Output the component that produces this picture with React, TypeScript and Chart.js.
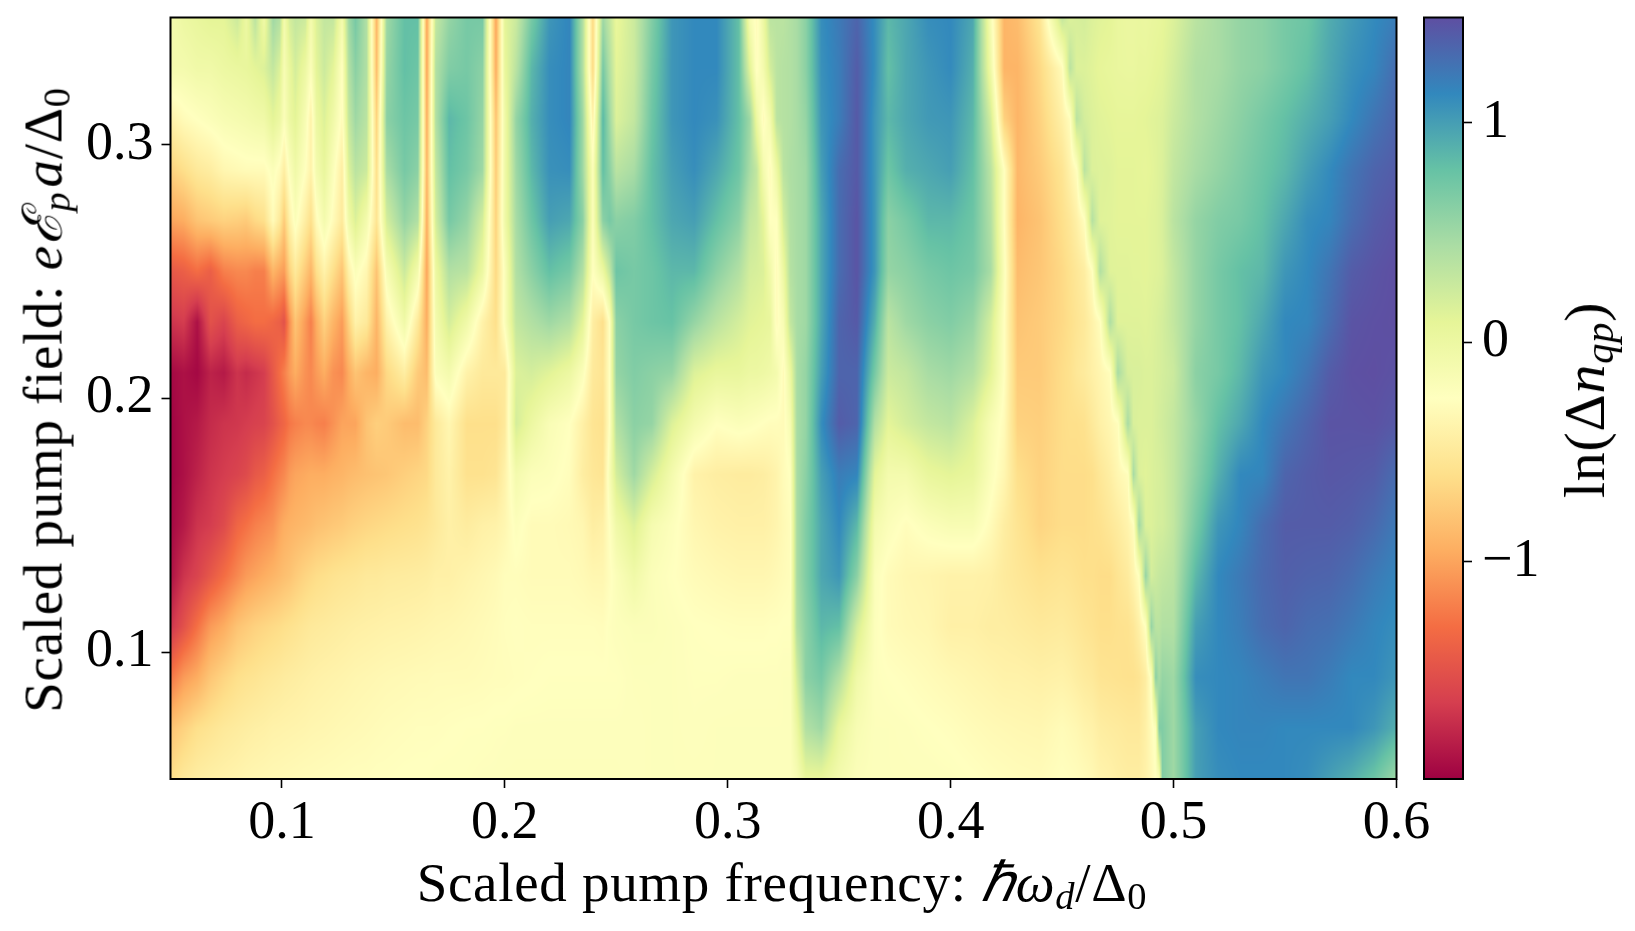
import React, { useEffect, useRef } from "react";
import { Chart, registerables } from "chart.js";

Chart.register(...registerables);

// Pump field values of the rows (bottom to top)
const pumpFields = [0.05, 0.07, 0.09, 0.11, 0.13, 0.15, 0.17, 0.19, 0.21, 0.23, 0.25, 0.27, 0.29, 0.31, 0.33, 0.35];

// Pump frequency of each column
const pumpFrequencies = [
  0.05, 0.056, 0.062, 0.068, 0.074, 0.08, 0.084, 0.088, 0.092, 0.096, 0.099, 0.101, 0.1035, 0.106, 0.1105, 0.113, 0.1155, 0.119, 0.123, 0.127, 0.13, 0.133,
  0.138, 0.1425, 0.147, 0.155, 0.161, 0.165, 0.169, 0.175, 0.183, 0.19, 0.196, 0.2, 0.205, 0.212, 0.22, 0.229,
  0.235, 0.2395, 0.244, 0.247, 0.25, 0.258, 0.266, 0.275, 0.285, 0.295, 0.305, 0.31, 0.313, 0.316, 0.319, 0.322, 0.325, 0.328, 0.331, 0.335, 0.342, 0.35,
  0.358, 0.366, 0.372, 0.38, 0.39, 0.4, 0.41, 0.418, 0.424, 0.43, 0.44,
  0.45, 0.4535, 0.4565, 0.46, 0.4635, 0.467, 0.4715, 0.475, 0.4795, 0.482, 0.4845, 0.4875, 0.49, 0.492, 0.4935, 0.495,
  0.5, 0.51, 0.52, 0.53, 0.54, 0.55, 0.56, 0.57, 0.58, 0.59, 0.6,
];

// ln(Δn_qp), one list per frequency column
const lnDensityColumns = [
  [-.6,-.8,-1.25,-1.7,-1.9,-1.95,-1.98,-1.98,-1.95,-1.7,-1.45,-1,-.7,-.4,-.1,-.1],
  [-.5,-.7,-1.05,-1.5,-1.7,-1.85,-1.9,-1.9,-1.9,-1.65,-1.4,-.95,-.6,-.3,-.1,0],
  [-.45,-.6,-.95,-1.28,-1.6,-1.7,-1.8,-1.85,-1.95,-1.9,-1.3,-.8,-.5,-.25,-.05,.05],
  [-.42,-.55,-.78,-1.05,-1.45,-1.65,-1.7,-1.75,-1.8,-1.5,-1.4,-.75,-.45,-.2,-.05,.1],
  [-.4,-.5,-.68,-.95,-1.3,-1.55,-1.65,-1.7,-1.85,-1.6,-1.2,-.7,-.35,-.15,0,.1],
  [-.38,-.47,-.6,-.8,-1.15,-1.35,-1.6,-1.68,-1.7,-1.4,-1.15,-.72,-.32,-.12,.03,.25],
  [-.36,-.45,-.57,-.75,-1.05,-1.28,-1.55,-1.65,-1.75,-1.35,-1.15,-.75,-.3,-.1,.05,0],
  [-.35,-.43,-.55,-.7,-1,-1.2,-1.45,-1.62,-1.7,-1.3,-1.2,-.65,-.3,-.07,.1,.35],
  [-.34,-.42,-.52,-.67,-.95,-1.15,-1.4,-1.6,-1.65,-1.3,-1.2,-.6,-.3,-.05,.15,-.05],
  [-.33,-.4,-.5,-.64,-.9,-1.1,-1.28,-1.5,-1.45,-1.35,-.9,-.3,-.2,.1,.3,.5],
  [-.325,-.395,-.485,-.62,-.86,-1,-1.2,-1.4,-1.3,-1.4,-1,-.5,-.3,0,.15,.4],
  [-.32,-.39,-.47,-.6,-.83,-.95,-1.15,-1.35,-1.2,-1.5,-1.05,-.75,-.45,-.2,-.15,-.1],
  [-.315,-.385,-.46,-.58,-.8,-.92,-1.05,-1.25,-1.05,-1.1,-.7,-.4,-.2,0,.05,.2],
  [-.31,-.38,-.45,-.56,-.75,-.9,-1,-1.2,-.95,-.8,-.5,-.2,-.05,.1,.2,.3],
  [-.3,-.37,-.43,-.52,-.68,-.87,-.97,-1.15,-1.1,-1.05,-.75,-.45,-.25,-.15,0,.25],
  [-.3,-.36,-.42,-.5,-.65,-.85,-.95,-1.15,-1.15,-1.2,-.9,-.6,-.4,-.4,-.2,-.1],
  [-.295,-.355,-.41,-.49,-.62,-.82,-.95,-1.18,-1.05,-.95,-.6,-.3,-.1,0,.1,.15],
  [-.29,-.35,-.4,-.48,-.6,-.8,-.95,-1.2,-.95,-.7,-.4,-.1,.05,.15,.25,.3],
  [-.285,-.34,-.39,-.465,-.57,-.77,-.92,-1.1,-1.1,-.9,-.6,-.3,-.2,-.05,.1,.3],
  [-.28,-.33,-.38,-.45,-.55,-.75,-.9,-1,-1.15,-1.05,-.8,-.5,-.45,-.3,-.25,-.1],
  [-.275,-.325,-.37,-.44,-.54,-.72,-.87,-1,-.95,-.7,-.4,-.05,.15,.3,.4,.5],
  [-.27,-.32,-.36,-.43,-.53,-.7,-.85,-1,-.8,-.4,-.2,.15,.35,.5,.6,.7],
  [-.27,-.31,-.35,-.42,-.5,-.67,-.82,-.8,-.9,-.5,-.35,-.1,.25,.35,.4,.4],
  [-.26,-.3,-.34,-.41,-.5,-.65,-.8,-.72,-.95,-.9,-.8,-.55,-.6,-.7,-.85,-.9],
  [-.26,-.29,-.33,-.4,-.48,-.63,-.78,-.75,-.65,-.4,-.15,.2,.45,.6,.55,.5],
  [-.25,-.28,-.32,-.39,-.47,-.6,-.72,-.85,-.45,-.05,.25,.55,.7,.75,.8,.8],
  [-.25,-.27,-.31,-.38,-.46,-.58,-.68,-.85,-.75,-.5,-.1,.4,.6,.7,.75,.8],
  [-.25,-.27,-.31,-.37,-.45,-.55,-.65,-.7,-.85,-.95,-1,-.95,-.9,-.95,-1,-1],
  [-.24,-.27,-.3,-.36,-.42,-.5,-.5,-.5,-.2,-.1,0,.2,.3,.4,.4,.3],
  [-.24,-.26,-.3,-.35,-.42,-.42,-.4,-.35,-.1,.2,.4,.7,.8,.85,.65,.55],
  [-.24,-.25,-.3,-.33,-.38,-.47,-.58,-.6,-.4,-.05,.35,.55,.7,.75,.7,.7],
  [-.23,-.25,-.29,-.31,-.35,-.42,-.58,-.6,-.5,-.4,0,.2,.5,.55,.6,.7],
  [-.23,-.24,-.28,-.29,-.32,-.4,-.55,-.6,-.5,-.6,-.65,-.7,-.75,-.8,-.95,-1],
  [-.22,-.24,-.28,-.27,-.28,-.35,-.4,-.5,-.5,-.2,-.2,-.05,-.05,-.05,.05,.1],
  [-.22,-.23,-.27,-.26,-.28,-.22,-.1,.2,.15,.3,.4,.45,.5,.55,.35,.25],
  [-.22,-.23,-.26,-.27,-.3,-.3,-.2,0,.2,.4,.6,.75,.85,.9,.85,.7],
  [-.22,-.23,-.25,-.27,-.3,-.3,-.22,-.17,.12,.5,.8,1,1.08,1.1,1.1,1.05],
  [-.22,-.23,-.25,-.27,-.3,-.32,-.28,-.25,0,.4,.7,.95,1.1,1.15,1.15,1.15],
  [-.22,-.23,-.25,-.27,-.32,-.35,-.45,-.42,-.2,.1,.4,.6,.5,.5,.4,.4],
  [-.22,-.23,-.25,-.27,-.35,-.45,-.52,-.55,-.5,-.45,-.25,-.2,-.2,-.4,-.65,-.65],
  [-.22,-.23,-.25,-.28,-.35,-.42,-.55,-.58,-.55,-.6,0,.6,.8,.85,.7,.5],
  [-.22,-.23,-.25,-.24,-.28,-.25,-.15,-.25,-.25,-.25,.3,.7,.6,.5,.4,.3],
  [-.22,-.23,-.25,-.22,-.2,-.05,.2,.4,.55,.6,.75,.6,.35,.15,.1,.05],
  [-.23,-.23,-.22,-.2,-.05,.15,.5,.6,.65,.7,.7,.65,.45,.3,.25,.25],
  [-.22,-.22,-.22,-.2,-.2,-.12,.2,.55,.6,.75,.75,.8,.8,.75,.7,.65],
  [-.22,-.22,-.22,-.22,-.25,-.22,-.1,.15,.55,.78,.85,.95,1,1.05,1.05,1.05],
  [-.22,-.23,-.24,-.25,-.3,-.35,-.4,-.1,.15,.55,.85,1,1.1,1.13,1.13,1.13],
  [-.22,-.22,-.24,-.26,-.33,-.4,-.45,-.25,.05,.35,.6,.8,.95,1.08,1.13,1.13],
  [-.22,-.22,-.23,-.27,-.35,-.42,-.47,-.2,.05,.2,.4,.6,.75,.8,.8,.8],
  [-.22,-.22,-.23,-.27,-.35,-.42,-.47,-.22,0,.12,.2,.3,.45,.5,.1,-.15],
  [-.22,-.22,-.23,-.27,-.35,-.42,-.46,-.24,0,.1,.18,.25,.3,0,-.28,-.3],
  [-.22,-.22,-.23,-.27,-.35,-.42,-.45,-.26,-.02,.08,.15,.1,-.1,-.3,-.1,0],
  [-.22,-.22,-.23,-.26,-.34,-.4,-.42,-.28,-.05,.05,-.05,-.25,-.3,-.1,.2,.35],
  [-.22,-.22,-.23,-.26,-.32,-.37,-.38,-.28,-.1,-.3,-.3,-.25,0,.35,.35,.35],
  [-.22,-.22,-.22,-.25,-.3,-.32,-.3,-.3,-.3,-.15,0,.2,.35,.38,.38,.35],
  [-.22,-.22,-.22,-.25,-.28,-.28,-.25,-.15,0,.3,.38,.4,.42,.4,.4,.4],
  [-.15,0,.2,.4,.45,.45,.45,.45,.45,.45,.45,.45,.45,.45,.45,.45],
  [.05,.4,.6,.6,.65,.65,.6,.55,.55,.5,.5,.5,.5,.55,.6,.6],
  [.05,.5,.7,.85,.95,.95,1,1.1,1,.95,.95,.95,1,1.05,1.08,1.1],
  [-.1,.05,.4,.8,1.05,1.13,1.2,1.4,1.35,1.35,1.3,1.3,1.3,1.2,1.2,1.22],
  [-.2,-.15,-.05,.2,.6,.85,1.15,1.35,1.35,1.42,1.45,1.45,1.42,1.42,1.4,1.35],
  [-.22,-.22,-.23,-.22,-.2,-.1,.1,.4,.7,.9,1.05,1.05,1.05,1.05,1.1,1.1],
  [-.22,-.22,-.25,-.3,-.3,-.2,-.1,.1,.25,.35,.55,.6,.75,.85,.8,.85],
  [-.22,-.23,-.27,-.33,-.35,-.28,-.1,.2,.3,.5,.6,.7,.9,.95,.95,.95],
  [-.22,-.25,-.3,-.35,-.37,-.2,.05,.3,.45,.6,.7,.85,.95,1.03,1.05,1.1],
  [-.23,-.27,-.33,-.42,-.4,-.15,.1,.35,.5,.65,.75,.85,1,1.05,1.12,1.13],
  [-.25,-.3,-.36,-.42,-.4,-.15,.05,.15,.4,.55,.7,.75,.8,.85,.9,.95],
  [-.27,-.32,-.38,-.45,-.42,-.3,-.2,-.15,.1,.2,.45,.4,.35,.2,-.05,-.15],
  [-.28,-.33,-.4,-.45,-.48,-.45,-.35,-.3,-.25,-.25,-.2,-.25,-.25,-.7,-.9,-.9],
  [-.29,-.34,-.4,-.47,-.52,-.55,-.6,-.7,-.75,-.8,-.85,-.9,-.88,-.9,-.9,-.85],
  [-.3,-.35,-.42,-.5,-.58,-.68,-.7,-.72,-.75,-.75,-.78,-.8,-.75,-.7,-.65,-.55],
  [-.26,-.3,-.4,-.48,-.55,-.62,-.62,-.62,-.62,-.65,-.65,-.6,-.55,-.42,-.3,.3],
  [-.27,-.32,-.42,-.5,-.56,-.62,-.62,-.6,-.58,-.6,-.58,-.52,-.4,-.28,.35,.15],
  [-.28,-.34,-.45,-.52,-.58,-.62,-.62,-.6,-.52,-.55,-.52,-.42,-.27,.35,.15,.18],
  [-.3,-.38,-.48,-.55,-.6,-.62,-.62,-.58,-.48,-.5,-.45,-.27,.35,.2,.15,.2],
  [-.33,-.4,-.5,-.57,-.6,-.6,-.6,-.5,-.42,-.4,-.27,.38,.15,.15,.12,.15],
  [-.38,-.45,-.55,-.6,-.62,-.58,-.52,-.42,-.36,-.28,.4,.13,.14,.12,.08,.12],
  [-.4,-.47,-.56,-.6,-.62,-.52,-.44,-.35,-.28,.42,.13,.12,.13,.1,.06,.1],
  [-.43,-.48,-.57,-.58,-.55,-.47,-.35,-.28,.45,.13,.12,.1,.1,.08,.04,.04],
  [-.45,-.5,-.58,-.57,-.48,-.38,-.28,.45,.18,.13,.12,.1,.1,.08,.03,.02],
  [-.45,-.5,-.58,-.52,-.38,-.28,.45,.17,.17,.13,.11,.1,.1,.08,.03,.02],
  [-.45,-.5,-.55,-.42,-.25,.5,.15,.15,.17,.13,.11,.1,.09,.09,.05,.03],
  [-.4,-.42,-.45,-.25,.55,.15,.12,.15,.15,.12,.1,.1,.08,.1,.05,.02],
  [-.33,-.3,-.22,.55,.2,.15,.15,.15,.15,.14,.12,.12,.1,.12,.07,.04],
  [-.25,-.2,.6,.35,.25,.18,.17,.18,.17,.16,.13,.13,.12,.13,.09,.05],
  [-.2,.65,.45,.35,.28,.2,.18,.2,.18,.18,.14,.15,.14,.14,.1,.06],
  [.65,.65,.55,.4,.3,.2,.2,.22,.2,.2,.16,.18,.16,.15,.11,.08],
  [.5,.5,.5,.4,.35,.3,.3,.3,.25,.3,.3,.35,.3,.25,.2,.15],
  [1,1,1.1,1,.85,.7,.6,.55,.6,.55,.55,.55,.45,.4,.4,.35],
  [1.1,1.13,1.13,1.13,1.13,1.05,.9,.8,.7,.7,.7,.65,.55,.5,.45,.45],
  [1.13,1.15,1.15,1.2,1.22,1.15,1.13,.95,.85,.8,.8,.7,.65,.6,.55,.55],
  [1.13,1.15,1.2,1.3,1.32,1.3,1.15,1.13,1.05,.95,.85,.8,.75,.7,.6,.6],
  [1.13,1.13,1.25,1.35,1.38,1.4,1.35,1.25,1.13,1.13,1.05,.95,.85,.8,.7,.7],
  [1.1,1.13,1.25,1.3,1.36,1.4,1.4,1.35,1.25,1.15,1.13,1.1,1,.9,.8,.75],
  [1,1.13,1.2,1.28,1.35,1.4,1.43,1.45,1.4,1.3,1.25,1.15,1.12,1,.95,.92],
  [.9,1.13,1.13,1.22,1.3,1.38,1.42,1.45,1.47,1.45,1.4,1.3,1.25,1.13,1.08,1.03],
  [.75,1.05,1.13,1.15,1.22,1.32,1.4,1.46,1.48,1.47,1.45,1.4,1.35,1.25,1.15,1.12],
  [.5,.9,1.05,1.1,1.15,1.22,1.3,1.42,1.46,1.48,1.48,1.45,1.4,1.35,1.3,1.2],
];

const frequencyTicks = [0.1, 0.2, 0.3, 0.4, 0.5, 0.6];
const fieldTicks = [0.1, 0.2, 0.3];
const colorbarTicks = [-1, 0, 1];
const colorLimits = [-1.99, 1.48];
const spectralStops = ["#9e0142", "#d53e4f", "#f46d43", "#fdae61", "#fee08b", "#ffffbf", "#e6f598", "#abdda4", "#66c2a5", "#3288bd", "#5e4fa2"];

const TICK_FONT = { family: "'Liberation Serif', serif", size: 54 };
const TEXT_FONT = "'Liberation Serif', serif";

const hex = (h: string) => [1, 3, 5].map((i) => parseInt(h.slice(i, i + 2), 16));
const stopRgb = spectralStops.map(hex);

function colorAt(v: number) {
  const t = Math.min(1, Math.max(0, (v - colorLimits[0]) / (colorLimits[1] - colorLimits[0]))) * (stopRgb.length - 1);
  const i = Math.min(stopRgb.length - 2, Math.floor(t));
  const f = t - i;
  return stopRgb[i].map((c, k) => c + (stopRgb[i + 1][k] - c) * f);
}

function bracket(list: number[], v: number) {
  let i = 0;
  while (i < list.length - 2 && list[i + 1] < v) i++;
  const f = (v - list[i]) / (list[i + 1] - list[i]);
  return [i, Math.min(1, Math.max(0, f))];
}

const heatmapPlugin = {
  id: "heatmap",
  beforeDatasetsDraw(chart: any) {
    const { ctx, chartArea, scales } = chart;
    const left = Math.round(chartArea.left);
    const top = Math.round(chartArea.top);
    const w = Math.round(chartArea.right) - left;
    const h = Math.round(chartArea.bottom) - top;
    const img = ctx.createImageData(w, h);
    const xb = Array.from({ length: w }, (_, p) => bracket(pumpFrequencies, scales.x.getValueForPixel(left + p + 0.5)));
    for (let q = 0; q < h; q++) {
      const [j, fy] = bracket(pumpFields, scales.y.getValueForPixel(top + q + 0.5));
      for (let p = 0; p < w; p++) {
        const [i, fx] = xb[p];
        const a = lnDensityColumns[i];
        const b = lnDensityColumns[i + 1];
        const v = (a[j] * (1 - fx) + b[j] * fx) * (1 - fy) + (a[j + 1] * (1 - fx) + b[j + 1] * fx) * fy;
        const c = colorAt(v);
        const o = (q * w + p) * 4;
        img.data[o] = c[0];
        img.data[o + 1] = c[1];
        img.data[o + 2] = c[2];
        img.data[o + 3] = 255;
      }
    }
    ctx.putImageData(img, left, top);
  },
};

const framePlugin = {
  id: "frame",
  afterDraw(chart: any) {
    const { ctx, chartArea: a } = chart;
    ctx.save();
    ctx.strokeStyle = "#000";
    ctx.lineWidth = 2;
    ctx.strokeRect(a.left, a.top, a.right - a.left, a.bottom - a.top);
    ctx.restore();
  },
};

const tickGrid = { display: true, drawOnChartArea: false, drawTicks: true, tickLength: 9, tickWidth: 1.6, tickColor: "#000" };

const noAxisPadding = (axis: any) => {
  axis.paddingTop = 0;
  axis.paddingBottom = 0;
  axis.paddingLeft = 0;
  axis.paddingRight = 0;
};

export default function App() {
  const mainRef = useRef<HTMLCanvasElement>(null);
  const barRef = useRef<HTMLCanvasElement>(null);

  useEffect(() => {
    const main = new Chart(mainRef.current!, {
      type: "scatter",
      data: {
        datasets: [
          {
            label: "ln(Δn_qp)",
            data: pumpFrequencies.flatMap((x, i) => pumpFields.map((y, j) => ({ x, y, v: lnDensityColumns[i][j] }))),
            pointRadius: 0,
          },
        ],
      },
      options: {
        responsive: false,
        animation: false,
        events: [],
        layout: { padding: { left: 0, right: 238.5, top: 17.5, bottom: 0 } },
        plugins: { legend: { display: false }, tooltip: { enabled: false } },
        scales: {
          x: {
            type: "linear",
            min: 0.05,
            max: 0.6,
            border: { display: false },
            grid: tickGrid,
            afterBuildTicks: (axis: any) => { axis.ticks = frequencyTicks.map((value) => ({ value })); },
            afterFit: (axis: any) => { axis.height = 152; noAxisPadding(axis); },
            ticks: { color: "#000", font: TICK_FONT, padding: 3, maxRotation: 0, autoSkip: false, callback: (v: any) => Number(v).toFixed(1) },
          },
          y: {
            type: "linear",
            min: 0.05,
            max: 0.35,
            border: { display: false },
            grid: tickGrid,
            afterBuildTicks: (axis: any) => { axis.ticks = fieldTicks.map((value) => ({ value })); },
            afterFit: (axis: any) => { axis.width = 170.5; noAxisPadding(axis); },
            ticks: { color: "#000", font: TICK_FONT, padding: 8, autoSkip: false, callback: (v: any) => Number(v).toFixed(1) },
          },
        },
      },
      plugins: [heatmapPlugin, framePlugin],
    } as any);

    const bar = new Chart(barRef.current!, {
      type: "bar",
      data: {
        labels: ["ln(Δn_qp)"],
        datasets: [
          {
            data: [colorLimits as any],
            barPercentage: 1,
            categoryPercentage: 1,
            backgroundColor: (ctx: any) => {
              const a = ctx.chart.chartArea;
              if (!a) return "#fff";
              const g = ctx.chart.ctx.createLinearGradient(0, a.bottom, 0, a.top);
              spectralStops.forEach((c, i) => g.addColorStop(i / (spectralStops.length - 1), c));
              return g;
            },
          },
        ],
      },
      options: {
        responsive: false,
        animation: false,
        events: [],
        layout: { padding: { left: 24, right: 0, top: 17.5, bottom: 152 } },
        plugins: { legend: { display: false }, tooltip: { enabled: false } },
        scales: {
          x: { display: false },
          y: {
            position: "right",
            min: colorLimits[0],
            max: colorLimits[1],
            border: { display: false },
            grid: tickGrid,
            afterBuildTicks: (axis: any) => { axis.ticks = colorbarTicks.map((value) => ({ value })); },
            afterFit: (axis: any) => { axis.width = 172; noAxisPadding(axis); },
            ticks: { color: "#000", font: TICK_FONT, padding: 10, autoSkip: false, callback: (v: any) => (v < 0 ? "−" + Math.abs(v) : String(v)) },
          },
        },
      },
      plugins: [framePlugin],
    } as any);

    return () => {
      main.destroy();
      bar.destroy();
    };
  }, []);

  const sub: React.CSSProperties = { fontSize: "0.7em", verticalAlign: "-0.22em", lineHeight: 0 };
  const label: React.CSSProperties = { position: "absolute", fontFamily: TEXT_FONT, fontSize: 55, letterSpacing: 0.7, lineHeight: 1, whiteSpace: "nowrap", color: "#000" };

  return (
    <div style={{ position: "fixed", left: 0, top: 0, width: 1635, height: 931, background: "#fff", overflow: "hidden" }}>
      <canvas ref={mainRef} width={1635} height={931} style={{ position: "absolute", left: 0, top: 0 }} />
      <canvas ref={barRef} width={235} height={931} style={{ position: "absolute", left: 1400, top: 0 }} />
      <div style={{ ...label, left: 782, top: 882, transform: "translate(-50%,-50%)" }}>
        Scaled pump frequency: <i>ℏω<span style={sub}>d</span></i>/Δ<span style={sub}>0</span>
      </div>
      <div style={{ ...label, left: 43, top: 400, transform: "translate(-50%,-50%) rotate(-90deg)" }}>
        Scaled pump field: <i>eℰ<span style={{ ...sub, marginRight: 4 }}>p</span>a</i>/Δ<span style={sub}>0</span>
      </div>
      <div style={{ ...label, fontSize: 58, left: 1585, top: 400, transform: "translate(-50%,-50%) rotate(-90deg)" }}>
        ln(Δ<i>n<span style={sub}>qp</span></i>)
      </div>
    </div>
  );
}
